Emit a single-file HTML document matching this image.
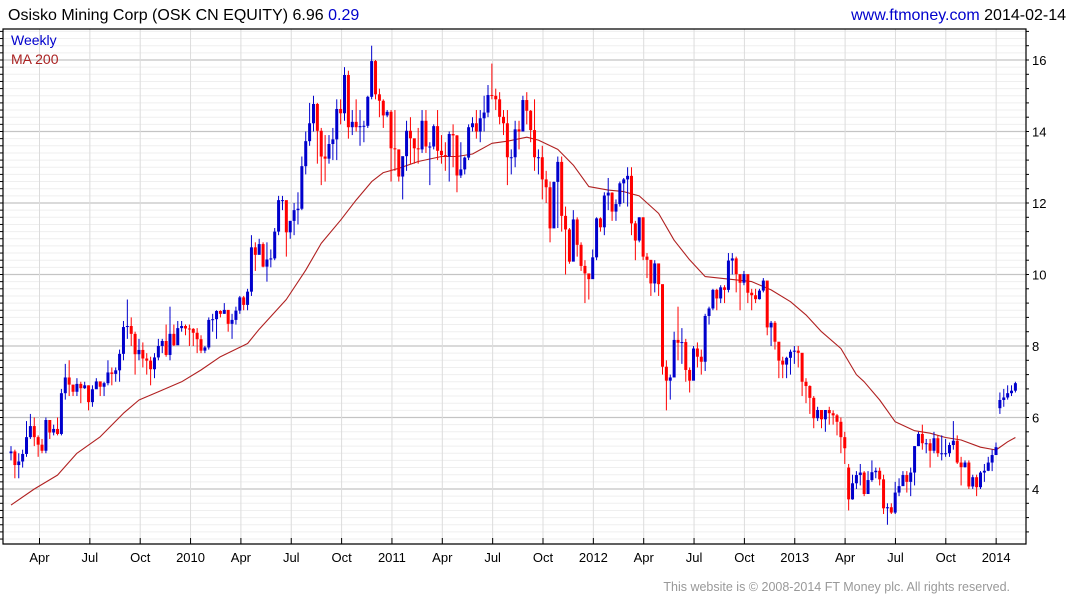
<!DOCTYPE html>
<html><head><meta charset="utf-8">
<style>
html,body{margin:0;padding:0;background:#fff;width:1075px;height:600px;overflow:hidden;font-family:"Liberation Sans",Arial,sans-serif;}
svg{position:absolute;left:0;top:0;}
</style></head>
<body>
<svg id="chart" width="1075" height="600" viewBox="0 0 1075 600" xmlns="http://www.w3.org/2000/svg">
  <g id="grid"></g>
  <g id="ma"></g>
  <g id="candles"></g>
  <g id="axes"></g>
  <text x="8" y="20" font-size="16" fill="#000">Osisko Mining Corp (OSK CN EQUITY) 6.96 <tspan fill="#0000cc">0.29</tspan></text>
  <text x="1066" y="20" font-size="16" text-anchor="end"><tspan fill="#0000cc">www.ftmoney.com</tspan> <tspan fill="#000">2014-02-14</tspan></text>
  <text x="11" y="45" font-size="14" fill="#0000cc">Weekly</text>
  <text x="11" y="64" font-size="14" fill="#aa2222">MA 200</text>
  <text x="1010" y="591" font-size="12.5" fill="#999" text-anchor="end">This website is © 2008-2014 FT Money plc. All rights reserved.</text>
</svg>
<script>
const closes=[5.05,4.67,4.77,4.98,5.45,5.76,5.45,5.24,5.07,5.93,
5.58,5.68,5.54,6.68,7.12,6.92,6.72,6.94,6.82,6.9,
6.43,6.79,7.01,6.86,6.96,7.26,7.22,7.32,7.78,8.53,
8.56,8.34,7.77,7.89,7.65,7.59,7.35,7.68,8.0,8.14,
7.75,8.34,8.02,8.5,8.56,8.49,8.48,8.37,8.19,7.87,
7.96,8.73,8.75,8.98,8.9,9.01,8.62,8.73,8.99,9.36,
9.15,9.52,10.76,10.55,10.85,
10.22,10.42,10.45,11.2,12.08,12.08,11.18,11.5,11.8,11.84,
13.03,13.73,14.23,14.77,14.02,13.3,13.24,13.65,13.78,14.63,
14.51,15.58,14.12,14.27,14.12,14.15,14.16,14.97,15.97,15.04,
14.86,14.45,14.55,13.53,13.5,12.74,13.31,14.02,13.81,13.53,
13.5,14.3,13.58,13.58,14.15,13.46,13.34,13.3,13.93,13.89,12.77,
12.94,13.27,14.12,14.23,14.0,14.37,14.53,15.02,15.0,14.9,
14.41,14.23,13.28,13.28,14.06,14.0,14.88,14.58,14.04,13.28,
13.28,12.66,12.44,11.29,12.59,13.15,11.64,11.26,10.36,11.54,
10.83,10.24,10.03,9.87,10.48,11.57,11.32,12.21,12.29,11.76,
11.97,12.55,12.66,12.76,11.43,10.95,11.6,10.5,10.41,9.75,
10.31,9.73,
7.42,7.03,7.12,8.17,8.09,8.11,7.33,7.03,7.93,7.7,
7.56,8.84,9.05,9.57,9.33,9.64,9.57,10.39,10.45,10.01,
9.77,10.01,9.49,9.42,9.31,9.55,9.83,8.52,8.65,8.12,
7.59,7.48,7.67,7.84,7.87,7.81,7.0,6.88,6.55,5.98,
6.21,5.95,6.21,6.12,6.06,5.88,5.45,5.14,
3.71,4.16,4.39,4.46,3.86,4.25,4.47,4.51,4.27,3.46,
3.49,3.34,3.9,4.08,4.39,4.2,4.46,5.2,5.54,5.28,
5.28,5.07,5.42,5.0,5.0,5.0,5.23,5.35,4.74,4.61,
4.74,4.07,4.33,4.05,4.46,4.51,4.74,4.95,5.17,6.49,
6.56,6.68,6.75,6.96];
const highs=[5.2,5.1,5.0,5.1,5.9,6.1,6.0,5.5,5.4,6.0,
5.9,5.8,6.0,6.8,7.5,7.6,6.9,7.1,7.0,7.0,
6.9,6.9,7.1,7.0,7.0,7.6,7.4,7.4,7.9,8.7,
9.3,8.8,8.4,8.2,8.1,7.8,7.7,7.8,8.2,8.2,
8.6,9.1,8.6,8.7,8.7,8.6,8.6,8.5,8.5,8.3,
8.0,8.8,8.9,9.0,9.0,9.2,9.0,8.9,9.1,9.4,
9.4,9.6,11.1,10.9,11.0,
10.9,10.9,10.7,11.3,12.2,12.2,12.0,11.5,12.0,12.3,
13.3,14.0,14.8,15.0,14.8,14.1,13.9,13.9,14.1,14.9,
14.9,15.8,15.7,14.6,14.9,14.6,14.3,15.0,16.4,16.0,
15.2,14.9,14.6,14.6,14.6,13.4,13.3,14.3,14.4,13.8,
14.1,14.6,14.6,13.7,14.2,14.6,13.9,13.7,14.0,14.2,13.9,
13.7,13.3,14.2,14.4,14.6,14.6,15.0,15.3,15.9,15.2,
15.1,14.6,14.6,13.5,14.3,14.3,15.0,15.1,14.6,14.9,
13.5,13.6,12.9,12.6,12.6,13.3,13.3,11.9,11.3,11.8,
11.6,10.9,10.4,10.0,10.7,11.6,11.6,12.3,12.7,12.3,
12.1,12.6,12.7,13.0,13.0,11.5,11.6,11.6,10.6,10.2,
10.4,10.2,
9.7,7.6,7.2,8.4,9.1,8.5,8.2,7.4,8.0,8.1,
7.9,8.9,9.1,9.6,9.6,9.7,9.7,10.6,10.6,10.5,
10.0,10.1,10.0,9.6,9.6,9.6,9.9,9.5,8.7,8.7,
8.1,7.7,7.7,7.9,8.0,8.0,7.8,7.1,6.9,6.6,
6.3,6.1,6.2,6.3,6.2,6.1,6.0,5.6,
4.7,4.4,4.5,4.7,4.5,4.5,4.8,4.6,4.6,4.4,
3.6,3.6,4.2,4.3,4.5,4.5,4.6,5.2,5.6,5.8,
5.4,5.4,5.6,5.5,5.5,5.4,5.3,5.9,5.5,4.9,
4.8,4.8,4.4,4.4,4.5,4.7,4.9,5.1,5.3,6.7,
6.8,6.9,6.9,7.0];
const lows=[4.8,4.3,4.3,4.6,4.9,5.4,5.2,4.9,5.0,5.0,
5.4,5.5,5.5,5.5,6.5,6.6,6.6,6.6,6.4,6.8,
6.2,6.3,6.8,6.6,6.6,6.9,6.9,7.0,7.0,7.6,
8.2,8.0,7.2,7.6,7.4,7.2,6.9,7.1,7.6,7.8,
7.7,7.6,8.0,8.1,8.4,8.3,8.0,8.0,7.8,7.8,
7.8,7.9,8.4,8.2,8.8,8.9,8.4,8.2,8.6,8.9,
9.0,9.0,9.4,10.1,10.6,
10.2,9.8,10.2,10.4,11.1,11.8,10.5,11.0,11.1,11.4,
11.8,12.8,13.6,14.0,13.1,12.5,12.6,13.1,13.2,13.2,
14.2,14.3,13.8,13.9,14.0,13.6,13.7,14.1,14.9,14.9,
14.4,14.1,14.4,12.6,12.9,12.6,12.1,12.9,13.1,13.1,
13.1,13.4,13.4,12.5,13.5,13.2,13.1,12.9,12.6,13.0,12.3,
12.7,12.8,13.2,14.0,13.8,13.7,14.0,14.4,14.9,14.6,
14.2,13.9,12.5,12.8,13.0,13.5,14.0,14.2,13.7,12.9,
12.8,12.1,12.0,10.9,11.3,11.3,11.2,10.0,10.3,10.6,
10.5,10.1,9.2,9.3,9.9,10.4,11.2,11.1,11.8,11.5,
11.5,11.9,12.0,11.9,11.1,10.4,10.9,10.4,9.9,9.4,
9.5,9.4,
7.2,6.2,6.5,7.4,7.6,7.5,7.0,6.7,7.2,7.4,
7.2,7.3,8.6,9.0,9.0,9.2,9.2,9.5,10.0,9.5,
9.0,9.7,9.2,9.0,9.2,9.3,9.5,8.3,8.0,7.9,
7.1,7.1,7.1,7.2,7.5,7.4,6.6,6.4,6.1,5.7,
5.9,5.7,5.6,5.8,5.8,5.5,5.0,4.7,
3.4,3.7,4.0,4.1,3.8,3.9,4.2,4.3,4.1,3.3,
3.0,3.3,3.3,3.8,4.1,3.9,3.8,4.1,5.2,5.1,
5.0,4.6,5.0,4.9,4.8,4.9,4.9,5.1,4.7,4.1,
4.6,4.0,4.0,3.8,4.0,4.2,4.5,4.5,5.0,6.1,
6.3,6.5,6.6,6.7];
const firstOpen=5.0;
const gapIndex=[216,255];
const gapOpen=[4.6,6.26];
const maWeeks=[0,6,12,17,23,29,33,38,44,49,54,61,64,71,76,80,85,89,93,96,100,105,111,115,119,124,128,133,136,141,145,149,154,158,162,167,171,175,179,185,191,196,201,205,209,214,218,220,224,228,233,237,241,245,250,254,257,259];
const maValues=[3.55,4.0,4.39,5.0,5.46,6.12,6.49,6.72,7.0,7.33,7.7,8.07,8.47,9.3,10.12,10.87,11.52,12.08,12.6,12.85,12.97,13.16,13.3,13.3,13.37,13.67,13.73,13.84,13.76,13.5,13.06,12.46,12.36,12.32,12.2,11.71,10.96,10.41,9.94,9.87,9.8,9.57,9.24,8.87,8.4,7.93,7.2,7.0,6.49,5.88,5.63,5.56,5.44,5.37,5.17,5.09,5.32,5.44];
const yTicks=[4,6,8,10,12,14,16];
const xLabels=["Apr","Jul","Oct","2010","Apr","Jul","Oct","2011","Apr","Jul","Oct","2012","Apr","Jul","Oct","2013","Apr","Jul","Oct","2014"];

const NS="http://www.w3.org/2000/svg";
const L=3,R=1026,T=29,B=544;
const yS=p=>60+(16-p)*35.75;
const xS=i=>11+i*3.878;
const qX=q=>39.5+q*50.35;
function mk(parent,tag,attrs){const e=document.createElementNS(NS,tag);for(const k in attrs)e.setAttribute(k,attrs[k]);parent.appendChild(e);return e;}
const grid=document.getElementById('grid'),axes=document.getElementById('axes'),cg=document.getElementById('candles'),mg=document.getElementById('ma');

for(let k=13;k<=84;k++){const p=k*0.2;const y=yS(p);if(y<T||y>B)continue;
  const major=Math.abs(p-Math.round(p/2)*2)<1e-6;
  const ln=mk(grid,'line',{x1:L,x2:R,y1:y,y2:y,stroke:major?'#c4c4c4':'#efefef','stroke-width':major?1.2:1});
  
  
  const tk=mk(axes,'line',{x1:0,x2:L,y1:y,y2:y,stroke:'#000'});
  
  
  if(k%2===0){const rt=mk(axes,'line',{x1:R,x2:R+3,y1:y,y2:y,stroke:'#000'});
    
    }
}
const v0=mk(grid,'line',{x1:qX(-1)+1,x2:qX(-1)+1,y1:T,y2:B,stroke:'#dcdcdc'});


xLabels.forEach((lab,q)=>{const x=qX(q);
  const v=mk(grid,'line',{x1:x,x2:x,y1:T,y2:B,stroke:'#dcdcdc'});
  
  
  const t=mk(axes,'line',{x1:x,x2:x,y1:B-6,y2:B,stroke:'#000'});
  
  
  const tx=mk(axes,'text',{x:x,y:562,'font-size':13,'text-anchor':'middle',fill:'#000'});
  tx.textContent=lab;
  
  
});
const fr=mk(axes,'path',{d:`M${L},${T}H${R}V${B}H${L}Z`,fill:'none',stroke:'#000','stroke-width':1.2});


yTicks.forEach(v=>{const tx=mk(axes,'text',{x:1032,y:yS(v)+5,'font-size':13,fill:'#000'});
  tx.textContent=v;
  
  });
const pts=maWeeks.map((w,i)=>`${xS(w).toFixed(1)},${yS(maValues[i]).toFixed(1)}`).join(' ');
const pl=mk(mg,'polyline',{points:pts,fill:'none',stroke:'#b02020','stroke-width':1.1,'stroke-linejoin':'round'});


closes.forEach((c,i)=>{let o=i===0?firstOpen:closes[i-1];
  const gi=gapIndex.indexOf(i);if(gi>=0)o=gapOpen[gi];
  const x=xS(i);
  const up=c>=o;const col=up?'#0000cc':'#ff0000';
  const w=mk(cg,'line',{x1:x,x2:x,y1:yS(highs[i]),y2:yS(lows[i]),stroke:col,'stroke-width':1});
  
  
  const top=yS(Math.max(o,c)),bot=yS(Math.min(o,c));
  const r=mk(cg,'rect',{x:x-1.5,y:top,width:3,height:Math.max(1,bot-top),fill:col});
  
  
});
</script>
</body></html>
